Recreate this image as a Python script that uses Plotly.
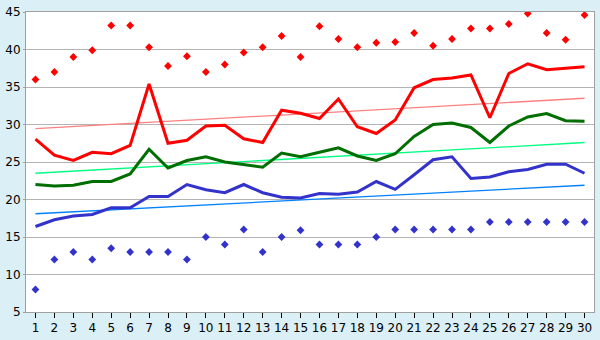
import plotly.graph_objects as go

days = list(range(1, 31))

red_max = [36, 37, 39, 39.9, 43.2, 43.2, 40.3, 37.8, 39.1, 37, 38, 39.6, 40.3, 41.8, 39,
           43.1, 41.4, 40.3, 40.9, 41, 42.2, 40.5, 41.4, 42.8, 42.8, 43.4, 44.8, 42.2, 41.3, 44.6]
red_line = [28.05, 25.9, 25.2, 26.3, 26.1, 27.2, 35.4, 27.5, 27.9, 29.8, 29.9, 28.1, 27.6, 31.9, 31.5,
            30.8, 33.4, 29.7, 28.8, 30.6, 34.9, 36.0, 36.2, 36.6, 30.9, 36.8, 38.1, 37.3, 37.5, 37.7]
green_line = [22.0, 21.8, 21.9, 22.4, 22.4, 23.4, 26.7, 24.2, 25.2, 25.7, 25.0, 24.7, 24.3, 26.2, 25.7,
              26.3, 26.9, 25.8, 25.2, 26.1, 28.4, 30.0, 30.2, 29.6, 27.6, 29.8, 31.0, 31.45, 30.5, 30.45]
blue_line = [16.4, 17.3, 17.8, 18.0, 18.9, 18.9, 20.4, 20.4, 22.0, 21.3, 20.9, 22.0, 20.9, 20.3, 20.2,
             20.8, 20.7, 21.0, 22.4, 21.35, 23.3, 25.3, 25.7, 22.8, 23.0, 23.7, 24.0, 24.7, 24.7, 23.5]
blue_min = [8, 12, 13, 12, 13.5, 13, 13, 13, 12, 15, 14, 16, 13, 15, 15.9,
            14, 14, 14, 15, 16, 16, 16, 16, 16, 17, 17, 17, 17, 17, 17]

trend_x = [1, 30]
red_trend = [29.45, 33.5]
green_trend = [23.5, 27.6]
blue_trend = [18.1, 21.9]

y_ticks = [5, 10, 15, 20, 25, 30, 35, 40, 45]

RED = "#ff0000"
GREEN = "#006e00"
BLUE = "#3333cc"

fig = go.Figure()

fig.add_trace(go.Scatter(x=trend_x, y=red_trend, mode="lines", line=dict(color="#ff8080", width=1.3)))
fig.add_trace(go.Scatter(x=trend_x, y=green_trend, mode="lines", line=dict(color="#00ff80", width=1.3)))
fig.add_trace(go.Scatter(x=trend_x, y=blue_trend, mode="lines", line=dict(color="#0080ff", width=1.3)))

fig.add_trace(go.Scatter(x=days, y=red_line, mode="lines", line=dict(color=RED, width=3)))
fig.add_trace(go.Scatter(x=days, y=green_line, mode="lines", line=dict(color=GREEN, width=3)))
fig.add_trace(go.Scatter(x=days, y=blue_line, mode="lines", line=dict(color=BLUE, width=3)))

fig.add_trace(go.Scatter(x=days, y=red_max, mode="markers",
                         marker=dict(symbol="diamond", size=6, color=RED, line=dict(width=0))))
fig.add_trace(go.Scatter(x=days, y=blue_min, mode="markers",
                         marker=dict(symbol="diamond", size=6, color=BLUE, line=dict(width=0))))

fig.update_layout(
    width=600, height=340,
    margin=dict(l=20, r=5, t=5, b=20),
    paper_bgcolor="#daeff6",
    plot_bgcolor="#ffffff",
    showlegend=False,
    font=dict(family="DejaVu Sans", size=12, color="#000000"),
)
fig.update_xaxes(
    range=[0.5, 30.5], tickmode="array", tickvals=days, ticktext=[str(d) for d in days],
    ticks="outside", ticklen=5, tickcolor="#000000", tickwidth=1,
    showgrid=False, showline=True, linecolor="#a0a0a0", linewidth=1, mirror=True,
    zeroline=False, tickfont=dict(size=12),
)
fig.update_yaxes(
    range=[5, 45], tickmode="array", tickvals=y_ticks, ticktext=[str(v) for v in y_ticks],
    ticks="outside", ticklen=2, tickcolor="#a0a0a0", ticklabeloverflow="allow",
    showgrid=True, gridcolor="#b4b4b4", gridwidth=1,
    showline=True, linecolor="#a0a0a0", linewidth=1, mirror=True,
    zeroline=False, tickfont=dict(size=12),
)

fig.write_html("out.html")
